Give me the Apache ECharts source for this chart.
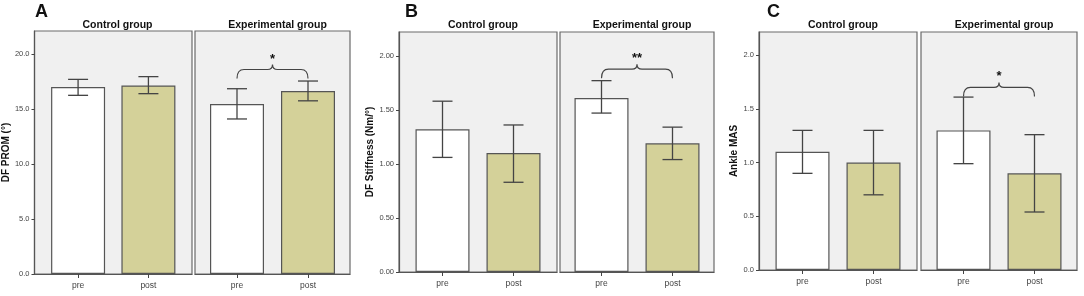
<!DOCTYPE html>
<html>
<head>
<meta charset="utf-8">
<script src="https://cdn.jsdelivr.net/npm/echarts@6/dist/echarts.min.js"></script>
<style>
  html, body { margin: 0; padding: 0; background: #fff; }
  #main { width: 1084px; height: 296px; }
</style>
</head>
<body>
<div id="main"></div>
<script>
// facets and time points
const groups = ['Control group', 'Experimental group'];
const times = ['pre', 'post'];
const panelLetters = ['A', 'B', 'C'];
const yNames = ['DF PROM (°)', 'DF Stiffness (Nm/°)', 'Ankle MAS'];

// values: control pre, control post, experimental pre, experimental post
const promMean = [17.0, 17.15, 15.45, 16.65];
const promLow = [16.25, 16.4, 14.1, 15.75];
const promHigh = [17.7, 17.95, 16.85, 17.55];

const stiffMean = [1.32, 1.10, 1.61, 1.19];
const stiffLow = [1.06, 0.83, 1.47, 1.04];
const stiffHigh = [1.58, 1.36, 1.77, 1.34];

const masMean = [1.10, 1.00, 1.30, 0.90];
const masLow = [0.90, 0.70, 0.99, 0.54];
const masHigh = [1.30, 1.30, 1.61, 1.26];

// y tick values per panel
const promTicks = [0, 5, 10, 15, 20];
const stiffTicks = [0, 0.5, 1.0, 1.5, 2.0];
const masTicks = [0, 0.5, 1.0, 1.5, 2.0];

// significance brackets (experimental group)
const sigLabels = ['*', '**', '*'];
const sigLevel = [18.6, 1.876, 1.70];

const panels = [
  { mean: promMean, low: promLow, high: promHigh, ticks: promTicks, dec: 1, max: 22.1,
    top: 31, height: 243, boxes: [[33, 159], [195, 155]], letterX: 30 },
  { mean: stiffMean, low: stiffLow, high: stiffHigh, ticks: stiffTicks, dec: 2, max: 2.22,
    top: 32, height: 240, boxes: [[399, 158], [560, 154]], letterX: 400 },
  { mean: masMean, low: masLow, high: masHigh, ticks: masTicks, dec: 1, max: 2.216,
    top: 32, height: 238, boxes: [[759, 158], [921, 156]], letterX: 762 }
];

const font = 'Liberation Sans, Arial, sans-serif';
const grid = [], xAxis = [], yAxis = [], series = [], title = [];

panels.forEach(function (p, pi) {
  title.push({
    text: panelLetters[pi], left: p.letterX, top: -2,
    textStyle: { fontFamily: font, fontSize: 18, fontWeight: 'bold', color: '#111' }
  });
  p.boxes.forEach(function (b, gi) {
    const idx = grid.length;
    grid.push({
      left: b[0], top: p.top, width: b[1], height: p.height,
      show: true, backgroundColor: '#f0f0f0', borderColor: '#6a6a6a', borderWidth: 1.2
    });
    title.push({
      text: groups[gi], left: b[0] + b[1] / 2, top: 15, textAlign: 'center',
      textStyle: { fontFamily: font, fontSize: 10.5, fontWeight: 'bold', color: '#111' }
    });
    const hw = b[1] / 71 / 2;
    xAxis.push({
      type: 'value', gridIndex: idx, min: 0.5 - hw, max: 0.5 + hw,
      splitLine: { show: false },
      axisLine: { show: true, onZero: false, lineStyle: { color: '#555', width: 1.2 } },
      axisTick: { show: true, customValues: [0, 1], length: 4, lineStyle: { color: '#444' } },
      axisLabel: {
        customValues: [0, 1], margin: 7, fontSize: 8.5, color: '#444', fontFamily: font,
        formatter: function (v) { return times[Math.round(v)]; }
      }
    });
    const tickVals = p.ticks;
    yAxis.push({
      type: 'value', gridIndex: idx, min: 0, max: p.max,
      name: gi === 0 ? yNames[pi] : '', nameLocation: 'middle', nameGap: 20,
      nameTextStyle: { fontFamily: font, fontSize: 10, fontWeight: 'bold', color: '#111' },
      splitLine: { show: false },
      axisLine: { show: gi === 0, onZero: false, lineStyle: { color: '#555', width: 1.2 } },
      axisTick: { show: gi === 0, customValues: tickVals, length: 3, lineStyle: { color: '#444' } },
      axisLabel: {
        show: gi === 0, customValues: tickVals, margin: 5, fontSize: 7.5, color: '#444',
        fontFamily: 'Liberation Sans Narrow, Liberation Sans, sans-serif',
        formatter: function (v) { return v.toFixed(p.dec); }
      }
    });
    const barData = times.map(function (t, ti) {
      return {
        value: [ti, p.mean[gi * 2 + ti]],
        itemStyle: { color: ti === 0 ? '#ffffff' : '#d4d199', borderColor: '#555', borderWidth: 1.2 }
      };
    });
    series.push({
      type: 'bar', xAxisIndex: idx, yAxisIndex: idx, barWidth: 54,
      data: barData, silent: true
    });
    const errData = times.map(function (t, ti) {
      return [ti, p.low[gi * 2 + ti], p.high[gi * 2 + ti]];
    });
    series.push({
      type: 'custom', xAxisIndex: idx, yAxisIndex: idx, silent: true, z: 5,
      data: errData,
      renderItem: function (params, api) {
        const lo = api.coord([api.value(0), api.value(1)]);
        const hi = api.coord([api.value(0), api.value(2)]);
        const w = 10;
        const st = { stroke: '#444', lineWidth: 1.3 };
        return {
          type: 'group', children: [
            { type: 'line', shape: { x1: lo[0], y1: lo[1], x2: hi[0], y2: hi[1] }, style: st },
            { type: 'line', shape: { x1: lo[0] - w, y1: lo[1], x2: lo[0] + w, y2: lo[1] }, style: st },
            { type: 'line', shape: { x1: hi[0] - w, y1: hi[1], x2: hi[0] + w, y2: hi[1] }, style: st }
          ]
        };
      }
    });
    if (gi === 1) {
      series.push({
        type: 'custom', xAxisIndex: idx, yAxisIndex: idx, silent: true, z: 6,
        data: [[0, 1, sigLevel[pi]]],
        renderItem: function (params, api) {
          const a = api.coord([api.value(0), api.value(2)]);
          const c = api.coord([api.value(1), api.value(2)]);
          const y = a[1], x0 = a[0], x1 = c[0], xm = (x0 + x1) / 2;
          const d = 'M' + x0 + ' ' + (y + 9) +
            ' Q' + x0 + ' ' + y + ' ' + (x0 + 7) + ' ' + y +
            ' L' + (xm - 5) + ' ' + y +
            ' Q' + xm + ' ' + y + ' ' + xm + ' ' + (y - 5) +
            ' Q' + xm + ' ' + y + ' ' + (xm + 5) + ' ' + y +
            ' L' + (x1 - 7) + ' ' + y +
            ' Q' + x1 + ' ' + y + ' ' + x1 + ' ' + (y + 9);
          return {
            type: 'group', children: [
              { type: 'path', shape: { pathData: d }, style: { fill: null, stroke: '#444', lineWidth: 1.2 } },
              { type: 'text', x: xm, y: y - 4, style: {
                  text: sigLabels[pi], align: 'center', verticalAlign: 'bottom',
                  fontSize: 13, fontWeight: 'bold', fill: '#111', fontFamily: font } }
            ]
          };
        }
      });
    }
  });
});

const chart = echarts.init(document.getElementById('main'));
chart.setOption({
  animation: false,
  backgroundColor: '#ffffff',
  title: title,
  grid: grid,
  xAxis: xAxis,
  yAxis: yAxis,
  series: series
});
</script>
</body>
</html>
